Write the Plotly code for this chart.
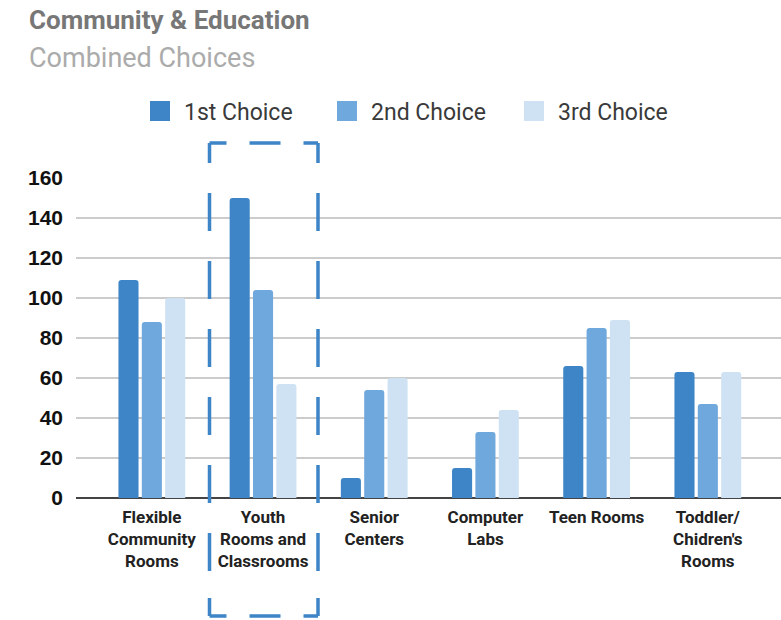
import plotly.graph_objects as go

categories = ["Flexible<br>Community<br>Rooms", "Youth<br>Rooms and<br>Classrooms", "Senior<br>Centers",
              "Computer<br>Labs", "Teen Rooms", "Toddler/<br>Chidren's<br>Rooms"]
first_choice = [109, 150, 10, 15, 66, 63]
second_choice = [88, 104, 54, 33, 85, 47]
third_choice = [100, 57, 60, 44, 89, 63]
series_names = ["1st Choice", "2nd Choice", "3rd Choice"]
colors = ["#3d85c6", "#6fa8dc", "#cfe2f3"]
y_ticks = [0, 20, 40, 60, 80, 100, 120, 140, 160]

fig = go.Figure()
for name, vals, col in zip(series_names, [first_choice, second_choice, third_choice], colors):
    fig.add_trace(go.Bar(x=list(range(len(categories))), y=vals, name=name, showlegend=False,
                         legendgroup=name, marker=dict(color=col, line=dict(width=0))))
# legend entries with larger square swatches
for name, col in zip(series_names, colors):
    fig.add_trace(go.Scatter(x=[None], y=[None], mode="markers", name=name, legendgroup=name,
                             marker=dict(symbol="square", size=16, color=col, line=dict(color=col, width=4)),
                             showlegend=True, hoverinfo="skip"))

L, R, T, B = 76, 0, 178, 122
W, H = 781, 620
pw, ph = W - L - R, H - T - B

def px_x(p):
    return (p - L) / pw

def px_y(p):
    return (H - B - p) / ph

fig.update_layout(
    width=W, height=H,
    margin=dict(l=L, r=R, t=T, b=B, autoexpand=False),
    paper_bgcolor="white", plot_bgcolor="white",
    barmode="group", bargap=0.37, bargroupgap=0.14, barcornerradius=3,
    font=dict(family="Roboto, Arial, sans-serif", color="#222"),
    showlegend=True,
    legend=dict(orientation="h", x=px_x(136), xanchor="left", y=px_y(111), yanchor="middle",
                font=dict(size=23, color="#3a3a3a", family="Roboto, sans-serif"),
                itemsizing="trace", itemwidth=38, entrywidth=134, entrywidthmode="pixels",
                traceorder="normal"),
    xaxis=dict(range=[-0.682, 5.658], tickvals=list(range(len(categories))), ticktext=categories,
               showgrid=False, zeroline=False, showline=False, ticks="", automargin=False,
               ticklabelstandoff=7,
               tickfont=dict(size=17, color="#222", family="Roboto, Arial, sans-serif", weight="bold"),
               ),
    yaxis=dict(range=[0, 160], tickvals=y_ticks, showgrid=True, gridcolor="#cccccc", gridwidth=1.5,
               zeroline=True, zerolinecolor="#444", zerolinewidth=2, ticks="", showline=False,
               automargin=False,
               tickfont=dict(size=21, color="#111", family="Arial, Liberation Sans, sans-serif", weight="bold"),
               ticklabelstandoff=12),
)

# dashed highlight box around the "Youth" category, drawn edge by edge
box_left, box_right, box_top, box_bottom = 209.5, 318, 143, 616
box_color = "#3d85c6"
h_dash = "17px,23px,31px,23px,40px"
v_dash = "20px,30px,38px,30px,38px,30px,38px,30px,38px,30px,38px,30px,38px,27px,40px"
for x0, y0, x1, y1, d in [
    (box_left, box_top, box_right, box_top, h_dash),
    (box_left, box_bottom, box_right, box_bottom, h_dash),
    (box_left, box_top, box_left, box_bottom, v_dash),
    (box_right, box_top, box_right, box_bottom, v_dash),
]:
    fig.add_shape(type="line", xref="paper", yref="paper",
                  x0=px_x(x0), y0=px_y(y0), x1=px_x(x1), y1=px_y(y1),
                  line=dict(color=box_color, width=3.5, dash=d), layer="above")

fig.add_annotation(text="<b>Community &amp; Education</b>", xref="paper", yref="paper",
                   x=px_x(27), y=px_y(20), xanchor="left", yanchor="middle", showarrow=False,
                   font=dict(size=26, color="#777777", family="Roboto, sans-serif"))
fig.add_annotation(text="Combined Choices", xref="paper", yref="paper",
                   x=px_x(27), y=px_y(58), xanchor="left", yanchor="middle", showarrow=False,
                   font=dict(size=27, color="#ababab", family="Roboto, sans-serif"))

fig.write_html("out.html", config={"displayModeBar": False},
               post_script="document.body.style.margin='0px';")
